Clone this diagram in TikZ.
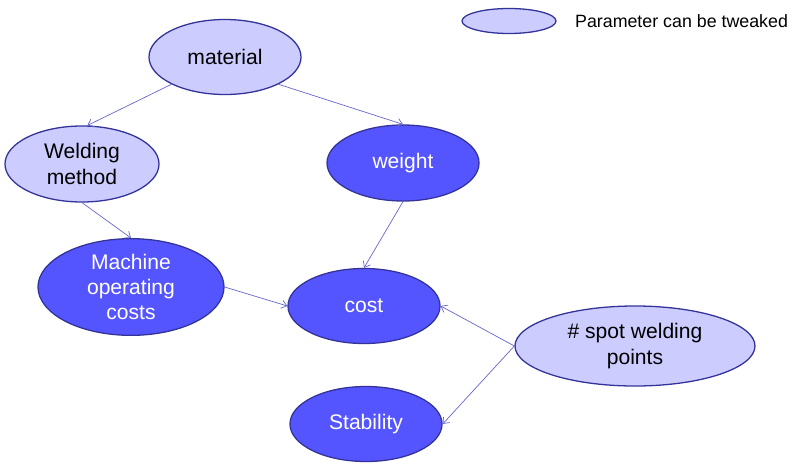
\documentclass[tikz,border=0pt]{standalone}
\usepackage{fontspec}
\setmainfont{Liberation Sans}
\usetikzlibrary{shapes.geometric, arrows.meta}
\definecolor{tweakfill}{RGB}{204,204,255}
\definecolor{calcfill}{RGB}{85,85,255}
\definecolor{rimblue}{RGB}{51,51,153}
\definecolor{edgeblue}{RGB}{102,102,204}

\begin{document}
\begin{tikzpicture}[x=0.03cm, y=-0.03cm,
  >={Straight Barb[length=4.5pt,width=7pt]},
  every node/.style={font=\fontsize{18}{21.5}\selectfont, align=center},
  bubble/.style={ellipse, draw=rimblue, line width=1.1pt, inner sep=0pt},
  param/.style={bubble, fill=tweakfill, text=black},
  calc/.style={bubble, fill=calcfill, text=white},
  link/.style={->, draw=edgeblue, line width=0.6pt}]
  \useasboundingbox (0,0) rectangle (803,469);
  % legend
  \node[param, minimum width=2.82cm, minimum height=0.75cm] (key) at (509,21) {};
  \node[anchor=west, font=\fontsize{15.2}{18}\selectfont] (keytext) at (571,21) {Parameter can be tweaked};
  % parameters
  \node[param, minimum width=4.56cm, minimum height=2.25cm] (material) at (225,57) {material};
  \node[param, minimum width=4.62cm, minimum height=2.28cm] (welding) at (82,164) {Welding\\method};
  \node[param, minimum width=7.2cm, minimum height=2.4cm] (spot) at (635,346) {\# spot welding\\points};
  % derived quantities
  \node[calc, minimum width=4.56cm, minimum height=2.28cm] (weight) at (403,163) {weight};
  \node[calc, minimum width=5.58cm, minimum height=2.9cm] (machine) at (131,287) {Machine\\operating\\costs};
  \node[calc, minimum width=4.56cm, minimum height=2.25cm] (cost) at (364,306) {cost};
  \node[calc, minimum width=4.56cm, minimum height=2.25cm] (stability) at (366,424) {Stability};
  % dependencies
  \draw[link] (material.207) -- (welding.82);
  \draw[link] (material.333) -- (weight.north);
  \draw[link] (welding.south) -- (machine.north);
  \draw[link] (weight.south) -- (cost.north);
  \draw[link] (machine.east) -- (cost.west);
  \draw[link] (spot.west) -- (cost.east);
  \draw[link] (spot.west) -- (stability.east);
\end{tikzpicture}
\end{document}
